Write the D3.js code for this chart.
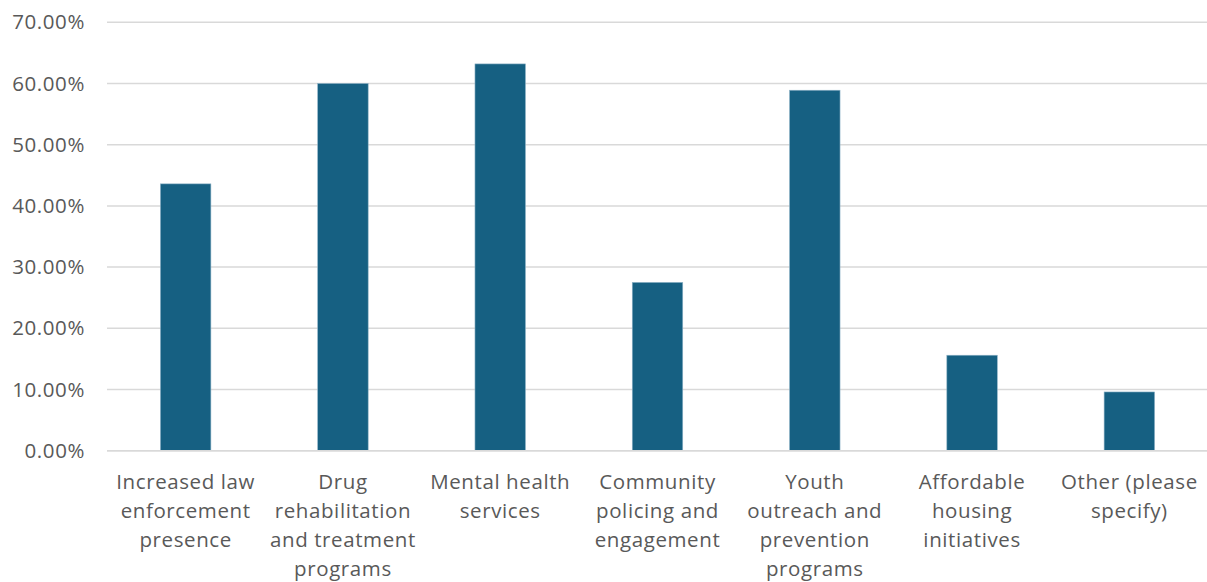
<!DOCTYPE html>
<html><head><meta charset="utf-8">
<script src="https://cdn.jsdelivr.net/npm/d3@7"></script>
<style>body{margin:0;background:#fff}svg{display:block}</style>
</head><body>
<svg id="chart" width="1207" height="582"></svg>
<script>
const categories = ["Increased law enforcement presence","Drug rehabilitation and treatment programs","Mental health services","Community policing and engagement","Youth outreach and prevention programs","Affordable housing initiatives","Other (please specify)"];
const labelLines = [["Increased law","enforcement","presence"],["Drug","rehabilitation","and treatment","programs"],["Mental health","services"],["Community","policing and","engagement"],["Youth","outreach and","prevention","programs"],["Affordable","housing","initiatives"],["Other (please","specify)"]];
const values = [0.436, 0.600, 0.632, 0.275, 0.589, 0.156, 0.096];
const yTicks = [0,0.1,0.2,0.3,0.4,0.5,0.6,0.7];

const svg = d3.select("#chart");
const m = {left:107, right:-1, top:22.3, bottom:131.3};
const W = 1207, H = 582;
const x = d3.scaleBand().domain(categories).range([m.left, W-m.right]).paddingInner(0.679).paddingOuter(0.3395);
const y = d3.scaleLinear().domain([0,0.7]).range([H-m.bottom, m.top]);
const font = "'Open Sans', 'Liberation Sans', Arial, sans-serif";

const grid = svg.append("g");
grid.selectAll("line").data(yTicks).join("line")
  .attr("x1", m.left).attr("x2", W)
  .attr("y1", d=>y(d)).attr("y2", d=>y(d))
  .attr("stroke","#d9d9d9").attr("stroke-width",1.5);

const yAxis = d3.axisLeft(y).tickValues(yTicks).tickFormat(d3.format(".2%")).tickSize(0).tickPadding(22);
const ya = svg.append("g").attr("transform",`translate(${m.left},0)`).call(yAxis);
ya.select(".domain").remove();
ya.selectAll("text").attr("font-family",font).attr("font-size",20.5).attr("letter-spacing",0.6).attr("fill","#595959");

svg.append("g").selectAll("rect").data(values).join("rect")
  .attr("x",(d,i)=>x(categories[i])).attr("width",x.bandwidth())
  .attr("y",d=>y(d)).attr("height",d=>y(0)-y(d))
  .attr("fill","#166082").attr("stroke","#8fb3c7").attr("stroke-width",0.6);

const xa = svg.append("g").attr("transform",`translate(0,${y(0)})`).call(d3.axisBottom(x).tickSize(0).tickFormat(""));
xa.select(".domain").attr("stroke","#d9d9d9").attr("stroke-width",1.5).attr("d",`M${m.left},0H${W}`);
xa.selectAll(".tick").each(function(d,i){
  const t = d3.select(this).append("text").attr("text-anchor","middle")
    .attr("font-family",font).attr("font-size",20.5).attr("letter-spacing",0.6).attr("fill","#595959");
  labelLines[i].forEach((ln,j)=>t.append("tspan").attr("x",0).attr("y",38+j*29).text(ln));
});
</script>
</body></html>
